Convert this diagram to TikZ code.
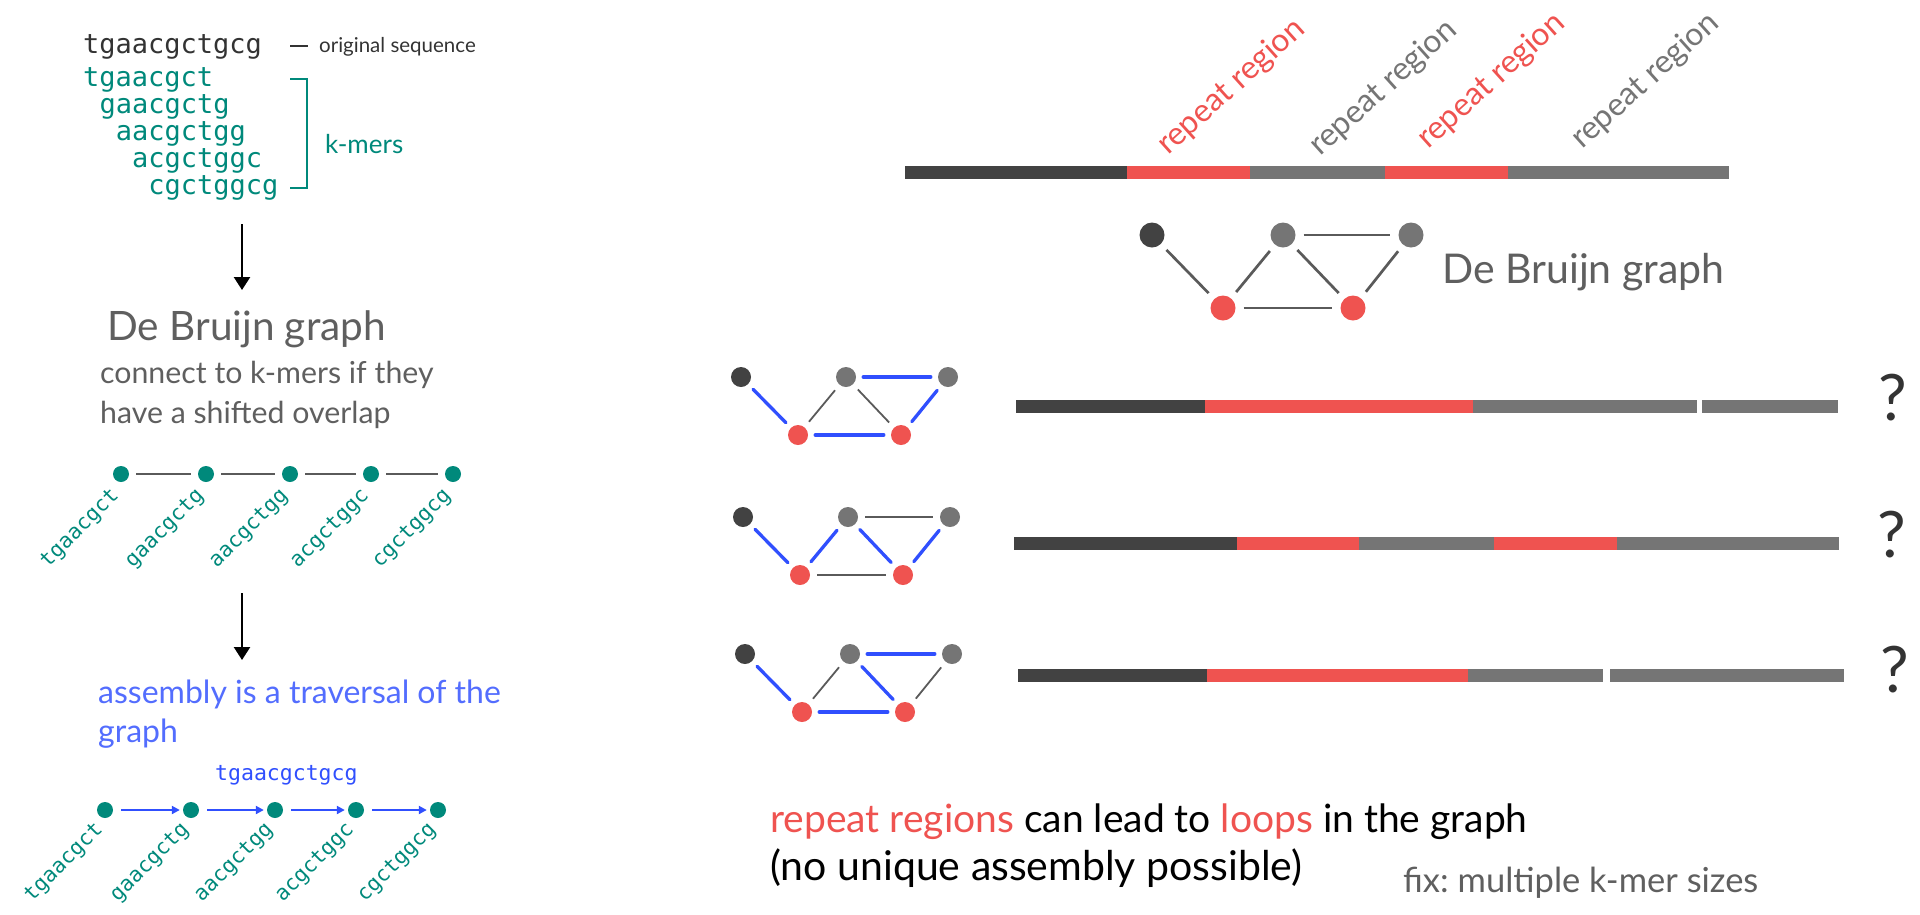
\documentclass[tikz,border=0pt]{standalone}
\usepackage{fontspec}
\setmainfont{Lato}
\setmonofont{DejaVu Sans Mono}
\usetikzlibrary{positioning,arrows.meta}
\frenchspacing

\definecolor{seqteal}{HTML}{00897B}
\definecolor{repred}{HTML}{EF5350}
\definecolor{darkseg}{HTML}{424242}
\definecolor{greyseg}{HTML}{757575}
\definecolor{edgegrey}{HTML}{5A5A5A}
\definecolor{pathblue}{HTML}{304FFE}
\definecolor{noteblue}{HTML}{536DFE}
\definecolor{textgrey}{HTML}{5F5F5F}
\definecolor{seqblack}{HTML}{333333}

\begin{document}
\begin{tikzpicture}[
    x=1pt, y=-1pt,
    seqtext/.style={inner sep=0pt, anchor=base west, font=\ttfamily\fontsize{27}{30}\selectfont, text=seqblack},
    kmer/.style={inner sep=0pt, anchor=base west, font=\ttfamily\fontsize{27}{30}\selectfont, text=seqteal},
    kmlabel/.style={inner sep=0pt, anchor=east, rotate=45, font=\ttfamily\fontsize{21}{24}\selectfont, text=seqteal},
    kdot/.style={circle, fill=seqteal, inner sep=0pt, minimum size=16pt},
    heading/.style={inner sep=0pt, anchor=base west, font=\fontsize{40.5}{44}\selectfont, text=textgrey},
    note/.style={inner sep=0pt, anchor=base west, font=\fontsize{30.3}{40}\selectfont, text=textgrey},
    bluenote/.style={note, text=noteblue, font=\fontsize{32}{40}\selectfont},
    replabel/.style={inner sep=0pt, anchor=base west, rotate=42, font=\fontsize{32}{36}\selectfont},
    bigtext/.style={inner sep=0pt, anchor=base west, font=\fontsize{39}{44}\selectfont, text=black},
    qmark/.style={inner sep=0pt, anchor=base, font=\fontsize{64}{70}\selectfont, text=seqblack},
    bigarrow/.style={-{Triangle[length=13pt,width=16pt]}, line width=2.5pt, black},
    chainline/.style={draw=edgegrey, line width=1.5pt, shorten <=7pt, shorten >=7pt},
    stepline/.style={-{Triangle[length=8pt,width=8pt]}, draw=pathblue, line width=2pt, shorten <=8pt, shorten >=3pt},
    bar/.style={line width=13pt},
    vdark/.style={circle, fill=darkseg, inner sep=0pt, minimum size=20pt},
    vgrey/.style={vdark, fill=greyseg},
    vred/.style={vdark, fill=repred},
    walk/.style={draw=pathblue, line width=3.3pt, line cap=round, shorten <=7pt, shorten >=7pt},
    link/.style={draw=edgegrey, line width=1.8pt, shorten <=7pt, shorten >=7pt},
    biglink/.style={draw=edgegrey, line width=2.7pt, shorten <=8pt, shorten >=8pt}
]
\useasboundingbox (0,0) rectangle (1920,914);

% --- sequence and k-mers
\node[seqtext] (orig) at (83,53) {tgaacgctgcg};
\draw[seqblack, line width=2pt] (290,46) -- (308,46);
\node[inner sep=0pt, anchor=base west, font=\fontsize{20.5}{24}\selectfont, text=seqblack] (origlbl) at (319,52) {original sequence};
\foreach \s [count=\i] in {tgaacgct,gaacgctg,aacgctgg,acgctggc,cgctggcg}
    \node[kmer] (km\i) at ({83+16.3*(\i-1)},{86+27*(\i-1)}) {\s};
\draw[seqteal, line width=2.5pt] (290,79) -| (307,188) -- (290,188);
\node[inner sep=0pt, anchor=base west, font=\fontsize{26}{30}\selectfont, text=seqteal] (kmlbl) at (325,153) {k-mers};

\coordinate (arrAtop) at (242,224);
\coordinate (arrAbot) at (242,290);
\draw[bigarrow] (arrAtop) -- (arrAbot);

% --- de Bruijn graph of the k-mers
\node[heading] (dbg) at (107,340) {De Bruijn graph};
\node[note] (cnct1) at (100,383) {connect to k-mers if they};
\node[note] (cnct2) at (100,423) {have a shifted overlap};

\foreach \x [count=\i] in {121,206,290,371,453}
    \node[kdot] (c\i) at (\x,474) {};
\foreach \i/\j in {1/2,2/3,3/4,4/5}
    \draw[chainline] (c\i) -- (c\j);
\foreach \s [count=\i] in {tgaacgct,gaacgctg,aacgctgg,acgctggc,cgctggcg}
    \node[kmlabel] (cl\i) at ([shift={(-5,19)}]c\i.center) {\s};

\coordinate (arrBtop) at (242,593);
\coordinate (arrBbot) at (242,660);
\draw[bigarrow] (arrBtop) -- (arrBbot);

% --- assembly
\node[bluenote] (asm1) at (98,703) {assembly is a traversal of the};
\node[bluenote] (asm2) at (98,742) {graph};
\node[inner sep=0pt, anchor=base west, font=\ttfamily\fontsize{21.5}{24}\selectfont, text=pathblue] (asmseq) at (215,780) {tgaacgctgcg};

\foreach \x [count=\i] in {105,191,275,356,438}
    \node[kdot] (p\i) at (\x,810) {};
\foreach \i/\j in {1/2,2/3,3/4,4/5}
    \draw[stepline] (p\i) -- (p\j);
\foreach \s [count=\i] in {tgaacgct,gaacgctg,aacgctgg,acgctggc,cgctggcg}
    \node[kmlabel] (pl\i) at ([shift={(-5,17)}]p\i.center) {\s};

% --- genome with repeats
\foreach \a/\b/\c in {905/1127/darkseg,1127/1250/repred,1250/1385/greyseg,1385/1508/repred,1508/1729/greyseg}
    \draw[bar,\c] (\a,172.5) -- (\b,172.5);
\node[replabel, text=repred] (rep1) at (1168,156) {repeat region};
\node[replabel, text=greyseg] (rep2) at (1320,157) {repeat region};
\node[replabel, text=repred] (rep3) at (1428,150) {repeat region};
\node[replabel, text=greyseg] (rep4) at (1582,150) {repeat region};

\node[vdark, minimum size=25pt] (td) at (1152,235) {};
\node[vgrey, minimum size=25pt] (tga) at (1283,235) {};
\node[vgrey, minimum size=25pt] (tgb) at (1411,235) {};
\node[vred, minimum size=25pt] (tra) at (1223,308) {};
\node[vred, minimum size=25pt] (trb) at (1353,308) {};
\draw[biglink] (td) -- (tra);
\draw[biglink] (tra) -- (tga);
\draw[biglink] (tga) -- (trb);
\draw[biglink] (tga) -- (tgb);
\draw[biglink] (tgb) -- (trb);
\draw[biglink] (tra) -- (trb);
\node[heading, font=\fontsize{41}{44}\selectfont] (dbgr) at (1442,283) {De Bruijn graph};

% --- possible assemblies
\foreach \r/\x/\y in {1/741/377,2/743/517,3/745/654}{
    \node[vdark] (d\r) at (\x,\y) {};
    \node[vgrey] (ga\r) at ({\x+105},\y) {};
    \node[vgrey] (gb\r) at ({\x+207},\y) {};
    \node[vred] (ra\r) at ({\x+57},{\y+58}) {};
    \node[vred] (rb\r) at ({\x+160},{\y+58}) {};
}
\draw[walk] (d1) -- (ra1);
\draw[link] (ra1) -- (ga1);
\draw[link] (ga1) -- (rb1);
\draw[walk] (ga1) -- (gb1);
\draw[walk] (gb1) -- (rb1);
\draw[walk] (ra1) -- (rb1);

\draw[walk] (d2) -- (ra2);
\draw[walk] (ra2) -- (ga2);
\draw[walk] (ga2) -- (rb2);
\draw[link] (ga2) -- (gb2);
\draw[walk] (gb2) -- (rb2);
\draw[link] (ra2) -- (rb2);

\draw[walk] (d3) -- (ra3);
\draw[link] (ra3) -- (ga3);
\draw[walk] (ga3) -- (rb3);
\draw[walk] (ga3) -- (gb3);
\draw[link] (gb3) -- (rb3);
\draw[walk] (ra3) -- (rb3);

\foreach \a/\b/\c in {1016/1205/darkseg,1205/1473/repred,1473/1697/greyseg,1702/1838/greyseg}
    \draw[bar,\c] (\a,406.5) -- (\b,406.5);
\foreach \a/\b/\c in {1014/1237/darkseg,1237/1359/repred,1359/1494/greyseg,1494/1617/repred,1617/1839/greyseg}
    \draw[bar,\c] (\a,543) -- (\b,543);
\foreach \a/\b/\c in {1018/1207/darkseg,1207/1468/repred,1468/1603/greyseg,1610/1844/greyseg}
    \draw[bar,\c] (\a,675.5) -- (\b,675.5);

\node[qmark] (q1) at (1893,420) {?};
\node[qmark] (q2) at (1892,557) {?};
\node[qmark] (q3) at (1895,692) {?};

% --- conclusion
\node[bigtext] (concl1) at (770,832) {\textcolor{repred}{repeat regions} can lead to \textcolor{repred}{loops} in the graph};
\node[bigtext, font=\fontsize{41}{44}\selectfont] (concl2) at (770,880) {(no unique assembly possible)};
\node[inner sep=0pt, anchor=base west, font=\fontsize{34.5}{38}\selectfont, text=textgrey] (fix) at (1403,892) {fix: multiple k-mer sizes};

\end{tikzpicture}
\end{document}
